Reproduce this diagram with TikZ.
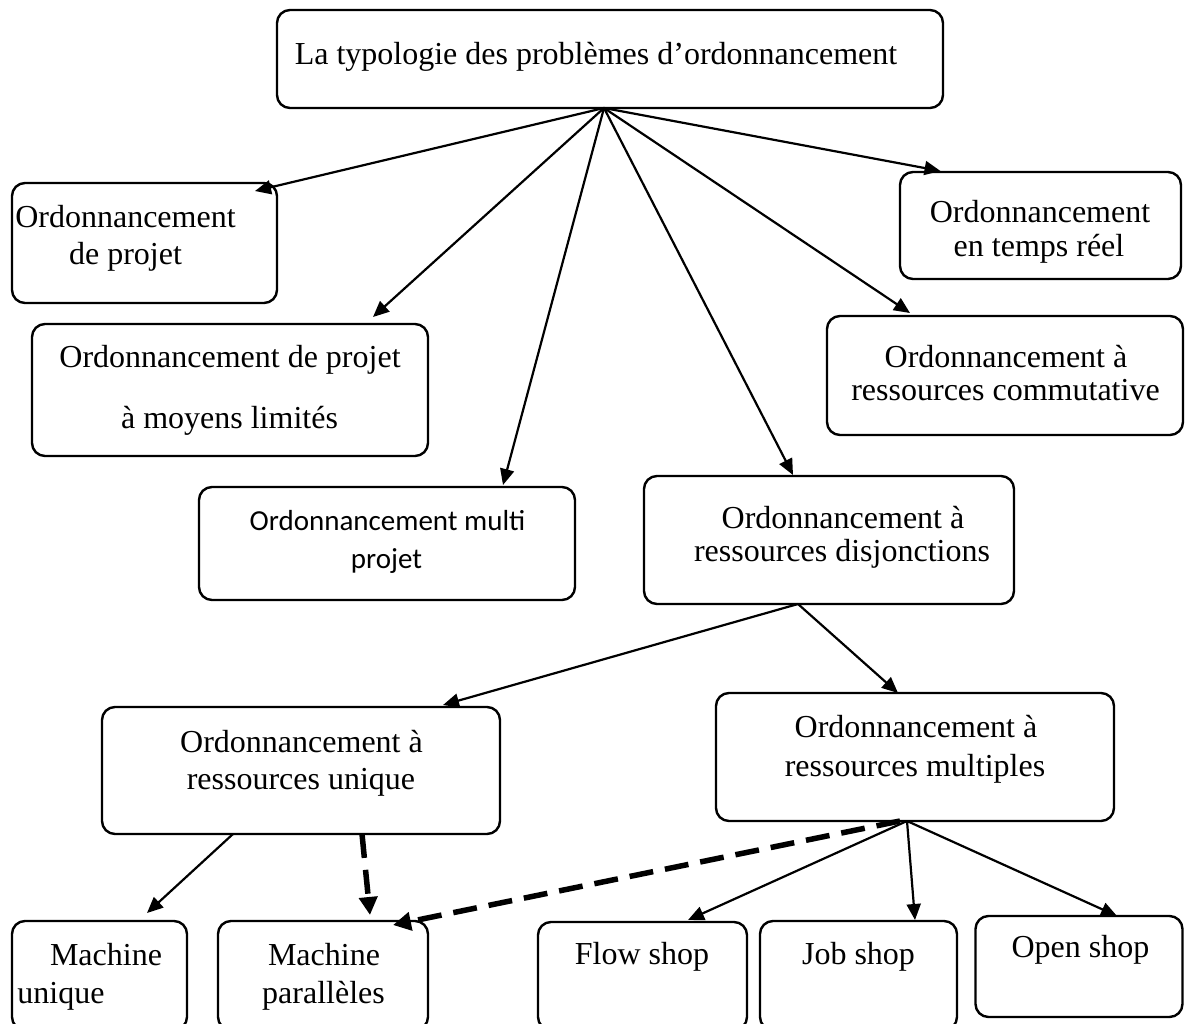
\documentclass[tikz,border=0pt]{standalone}
\usepackage{fontspec}
\setmainfont{Liberation Serif}
\newfontfamily\calibrifont{Carlito}
\usetikzlibrary{arrows.meta}
\begin{document}
\begin{tikzpicture}[x=1pt,y=-1pt,
  box/.style={draw, line width=2.4pt, rounded corners=13pt, inner sep=0pt, outer sep=0pt},
  lbl/.style={anchor=base, inner sep=0pt, font=\fontsize{32}{36}\selectfont},
  lblsans/.style={anchor=base, inner sep=0pt, font=\calibrifont\fontsize{29}{34}\selectfont},
  arr/.style={line width=2.2pt, -{Triangle[length=16pt,width=14pt]}},
  dasharr/.style={line width=5.5pt, dash pattern=on 24pt off 12pt, -{Triangle[length=18pt,width=18pt]}}]
\useasboundingbox[fill=white] (0,0) rectangle (1185,1024);

% boxes
\node[box, minimum width=666pt, minimum height=98pt]  (top) at (610,59) {};
\node[box, minimum width=265pt, minimum height=120pt] (P)   at (144.5,243) {};
\node[box, minimum width=396pt, minimum height=132pt] (L)   at (230,390) {};
\node[box, minimum width=281pt, minimum height=107pt] (R)   at (1040.5,225.5) {};
\node[box, minimum width=356pt, minimum height=119pt] (C)   at (1005,375.5) {};
\node[box, minimum width=376pt, minimum height=113pt] (M)   at (387,543.5) {};
\node[box, minimum width=370pt, minimum height=128pt] (D)   at (829,540) {};
\node[box, minimum width=398pt, minimum height=127pt] (U)   at (301,770.5) {};
\node[box, minimum width=398pt, minimum height=128pt] (MM)  at (915,757) {};
\node[box, minimum width=175pt, minimum height=109pt] (MU)  at (99.5,975.5) {};
\node[box, minimum width=210pt, minimum height=109pt] (MP)  at (323,975.5) {};
\node[box, minimum width=209pt, minimum height=108pt] (F)   at (642.5,976) {};
\node[box, minimum width=197pt, minimum height=109pt] (J)   at (858.5,975.5) {};
\node[box, minimum width=207pt, minimum height=101pt] (O)   at (1079,966.5) {};

% labels
\node[lbl] (ttop) at (596,65) {La typologie des problèmes d’ordonnancement};
\node[lbl] (tP1) at (125.5,228) {Ordonnancement};
\node[lbl] (tP2) at (125.5,265) {de projet};
\node[lbl] (tL1) at (230,367) {Ordonnancement de projet};
\node[lbl] (tL2) at (229.5,428) {à moyens limités};
\node[lbl] (tR1) at (1040,223) {Ordonnancement};
\node[lbl] (tR2) at (1039,257) {en temps réel};
\node[lbl] (tC1) at (1006,367) {Ordonnancement à};
\node[lbl] (tC2) at (1005.5,400) {ressources commutative};
\node[lblsans] (tM1) at (387.5,530) {Ordonnancement multi};
\node[lblsans] (tM2) at (386.5,568) {projet};
\node[lbl] (tD1) at (843,528) {Ordonnancement à};
\node[lbl] (tD2) at (842,561) {ressources disjonctions};
\node[lbl] (tU1) at (301.5,752) {Ordonnancement à};
\node[lbl] (tU2) at (301,789) {ressources unique};
\node[lbl] (tMM1) at (916,737) {Ordonnancement à};
\node[lbl] (tMM2) at (915,776) {ressources multiples};
\node[lbl] (tMU1) at (106,965) {Machine};
\node[lbl] (tMU2) at (61,1003) {unique};
\node[lbl] (tMP1) at (324,965) {Machine};
\node[lbl] (tMP2) at (323.5,1003) {parallèles};
\node[lbl] (tF) at (642,964) {Flow shop};
\node[lbl] (tJ) at (858.5,964) {Job shop};
\node[lbl] (tO) at (1080.5,957) {Open shop};

% connectors from the root
\draw[arr] ([xshift=-6pt]top.south) -- ([xshift=-22pt,yshift=-8pt]P.north east);
\draw[arr] ([xshift=-6pt]top.south) -- ([xshift=143pt,yshift=7pt]L.north);
\draw[arr] ([xshift=-6pt]top.south) -- ([xshift=116pt,yshift=2pt]M.north);
\draw[arr] ([xshift=-6pt]top.south) -- ([xshift=-36pt,yshift=1pt]D.north);
\draw[arr] ([xshift=-6pt]top.south) -- ([xshift=-95pt,yshift=3pt]C.north);
\draw[arr] ([xshift=-6pt]top.south) -- ([xshift=-100pt,yshift=1pt]R.north);

% disjunctive resources
\draw[arr] ([xshift=-31pt]D.south) -- ([xshift=142pt,yshift=2pt]U.north);
\draw[arr] ([xshift=-31pt]D.south) -- ([xshift=-17pt]MM.north);

% single resource
\draw[arr] ([xshift=-68pt]U.south) -- ([xshift=47.5pt,yshift=8pt]MU.north);
\draw[dasharr] ([xshift=61pt]U.south) -- ([xshift=47pt,yshift=6pt]MP.north);

% multiple resources
\draw[dasharr] ([xshift=-15pt]MM.south) -- ([xshift=70pt,yshift=-4pt]MP.north);
\draw[arr] ([xshift=-8pt]MM.south) -- ([xshift=45.5pt,yshift=2pt]F.north);
\draw[arr] ([xshift=-8pt]MM.south) -- ([xshift=56.5pt,yshift=1pt]J.north);
\draw[arr] ([xshift=-8pt]MM.south) -- ([xshift=38pt]O.north);
\end{tikzpicture}
\end{document}
